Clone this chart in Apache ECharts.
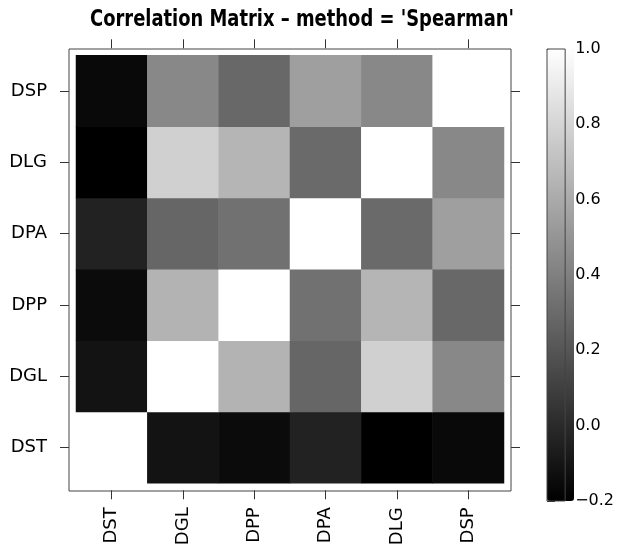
<!DOCTYPE html>
<html><head><meta charset="utf-8">
<script src="https://cdn.jsdelivr.net/npm/echarts@6/dist/echarts.min.js"></script>
<style>html,body{margin:0;padding:0;background:#fff}#c{width:617px;height:551px}</style>
</head><body><div id="c"></div>
<script>
// variables (x: left->right, y: bottom->top)
const variables = ['DST', 'DGL', 'DPP', 'DPA', 'DLG', 'DSP'];
// Spearman correlation rows, columns in the order of `variables`
const rowDST = [1.00, -0.11, -0.15, -0.04, -0.20, -0.16];
const rowDGL = [-0.11, 1.00, 0.64, 0.28, 0.78, 0.44];
const rowDPP = [-0.15, 0.64, 1.00, 0.33, 0.65, 0.29];
const rowDPA = [-0.04, 0.28, 0.33, 1.00, 0.30, 0.55];
const rowDLG = [-0.20, 0.78, 0.65, 0.30, 1.00, 0.44];
const rowDSP = [-0.16, 0.44, 0.29, 0.55, 0.44, 1.00];
const colorMin = -0.2, colorMax = 1.0, colorStep = 0.2;
const titleText = "Correlation Matrix \u2013 method = 'Spearman'";

const rows = [rowDST, rowDGL, rowDPP, rowDPA, rowDLG, rowDSP];
const data = [];
rows.forEach((row, yi) => row.forEach((v, xi) => data.push([xi, yi, v])));

const FONT = 'DejaVu Sans';
const titleFont = 'bold 22.5px "DejaVu Sans Condensed", "DejaVu Sans"';
const ctx = document.createElement('canvas').getContext('2d');
ctx.font = titleFont;
const titleScale = 424 / ctx.measureText(titleText).width;

const boxColor = '#444';
const tick = { show: true, inside: false, length: 9, alignWithLabel: true, lineStyle: { color: '#333', width: 1 } };

const chart = echarts.init(document.getElementById('c'), null, { renderer: 'canvas' });
chart.setOption({
  animation: false,
  backgroundColor: '#fff',
  graphic: [{
    type: 'text', x: 90, y: 19.8, scaleX: titleScale, z: 20,
    style: { text: titleText, font: titleFont, fill: '#000', align: 'left', verticalAlign: 'middle' }
  }],
  grid: [
    { left: 69, top: 49, width: 442, height: 442, show: true, borderColor: boxColor, borderWidth: 1, backgroundColor: 'transparent', z: 10 },
    { left: 76, top: 55.3, width: 428, height: 428 },
    { left: 547, top: 49, width: 27, height: 452, show: true, borderColor: boxColor, borderWidth: 1, backgroundColor: 'transparent', z: 10 }
  ],
  xAxis: [
    { gridIndex: 0, type: 'value', show: false, min: 0, max: 1 },
    { gridIndex: 1, type: 'category', data: variables, position: 'bottom', offset: 7,
      axisLine: { show: false }, axisTick: tick, splitLine: { show: false },
      axisLabel: { rotate: 90, margin: 17, fontFamily: FONT, fontSize: 18, color: '#000' } },
    { gridIndex: 1, type: 'category', data: variables, position: 'top', offset: 7,
      axisLine: { show: false }, axisTick: tick, axisLabel: { show: false } },
    { gridIndex: 2, type: 'value', show: false, min: 0, max: 1 }
  ],
  yAxis: [
    { gridIndex: 0, type: 'value', show: false, min: 0, max: 1 },
    { gridIndex: 1, type: 'category', data: variables, position: 'left', offset: 7,
      axisLine: { show: false }, axisTick: tick, splitLine: { show: false },
      axisLabel: { margin: 22, fontFamily: FONT, fontSize: 18, color: '#000' } },
    { gridIndex: 1, type: 'category', data: variables, position: 'right', offset: 7,
      axisLine: { show: false }, axisTick: tick, axisLabel: { show: false } },
    { gridIndex: 2, type: 'value', position: 'right', min: colorMin, max: colorMax, interval: colorStep,
      axisLine: { show: false }, splitLine: { show: false },
      axisTick: { show: true, inside: false, length: 8, lineStyle: { color: '#333' } },
      axisLabel: { margin: 10, fontFamily: FONT, fontSize: 16, color: '#000',
        formatter: v => (v < -1e-9 ? '\u2212' : '') + Math.abs(v).toFixed(1) } }
  ],
  visualMap: {
    type: 'continuous', min: colorMin, max: colorMax, calculable: false,
    orient: 'vertical', left: 547, top: 49, itemWidth: 27, itemHeight: 452,
    padding: 0, text: null, showLabel: false, seriesIndex: 0,
    inRange: { color: ['#000000', '#ffffff'] }
  },
  series: [{
    type: 'heatmap', xAxisIndex: 1, yAxisIndex: 1, data: data,
    itemStyle: { borderWidth: 0 },
    emphasis: { disabled: true }, label: { show: false }
  }]
});
</script></body></html>
